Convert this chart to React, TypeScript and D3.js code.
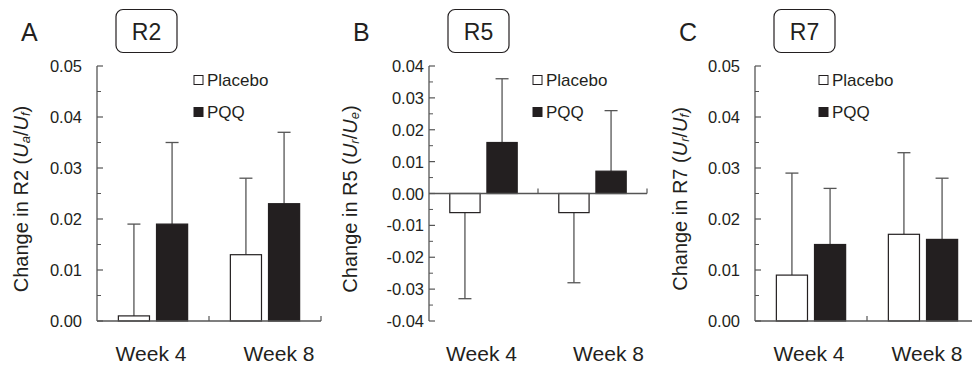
import * as d3 from "d3";

const weeks = ["Week 4", "Week 8"];
const groups = ["Placebo", "PQQ"];

// mean change and error bar end, per week
const r2Placebo = [0.001, 0.013];
const r2Pqq = [0.019, 0.023];
const r2PlaceboErr = [0.019, 0.028];
const r2PqqErr = [0.035, 0.037];

const r5Placebo = [-0.006, -0.006];
const r5Pqq = [0.016, 0.007];
const r5PlaceboErr = [-0.033, -0.028];
const r5PqqErr = [0.036, 0.026];

const r7Placebo = [0.009, 0.017];
const r7Pqq = [0.015, 0.016];
const r7PlaceboErr = [0.029, 0.033];
const r7PqqErr = [0.026, 0.028];

const ticks05 = [0, 0.01, 0.02, 0.03, 0.04, 0.05];
const ticks04 = [-0.04, -0.03, -0.02, -0.01, 0, 0.01, 0.02, 0.03, 0.04];

const FONT = "'Liberation Sans', Arial, sans-serif";
const INK = "#231f20";
const AXIS = "#555";

interface PanelProps {
  letter: string;
  title: string;
  x0: number;
  x1: number;
  domain: [number, number];
  ticks: number[];
  placebo: number[];
  pqq: number[];
  placeboErr: number[];
  pqqErr: number[];
  labelX: number;
  sub1: string;
  sub2: string;
  tickGap: number;
  legendX: number;
  week8Shift: number;
}

function Panel(p: PanelProps) {
  const top = 66;
  const bottom = 321;
  const y = d3.scaleLinear().domain(p.domain).range([bottom, top]);
  const x = d3.scaleBand<string>().domain(weeks).range([p.x0, p.x1]);
  const inner = d3
    .scaleBand<string>()
    .domain(groups)
    .range([0, x.bandwidth()])
    .paddingInner(0.184)
    .paddingOuter(0.56);
  const minor = d3.range(p.domain[0] + 0.005, p.domain[1], 0.01);
  const y0 = y(0);
  const vals: Record<string, number[]> = { Placebo: p.placebo, PQQ: p.pqq };
  const errs: Record<string, number[]> = { Placebo: p.placeboErr, PQQ: p.pqqErr };

  return (
    <g>
      <text x={p.x0 - 76} y={41} fontSize={25} fill={INK} fontFamily={FONT}>
        {p.letter}
      </text>
      <rect
        x={p.x0 + 19}
        y={9.5}
        width={61}
        height={43}
        rx={7}
        fill="white"
        stroke={INK}
        strokeWidth={1.2}
      />
      <text
        x={p.x0 + 49.5}
        y={32}
        fontSize={23}
        textAnchor="middle"
        dominantBaseline="central"
        fill={INK}
        fontFamily={FONT}
      >
        {p.title}
      </text>

      {/* y axis */}
      <line x1={p.x0} x2={p.x0} y1={top} y2={bottom} stroke={AXIS} strokeWidth={1.3} />
      {p.ticks.map((t) => (
        <g key={t}>
          <line x1={p.x0} x2={p.x0 + 6} y1={y(t)} y2={y(t)} stroke={AXIS} strokeWidth={1.2} />
          <text
            x={p.x0 - p.tickGap}
            y={y(t)}
            textAnchor="end"
            dominantBaseline="central"
            fontSize={16.5}
            fill={INK}
            fontFamily={FONT}
          >
            {t.toFixed(2)}
          </text>
        </g>
      ))}
      {minor.map((t) => (
        <line key={t} x1={p.x0} x2={p.x0 + 4} y1={y(t)} y2={y(t)} stroke={AXIS} strokeWidth={1} />
      ))}

      {/* bars */}
      {weeks.map((w, i) =>
        groups.map((g) => {
          const bx = (x(w) ?? 0) + (inner(g) ?? 0);
          const v = vals[g][i];
          const e = errs[g][i];
          const cx = bx + inner.bandwidth() / 2;
          return (
            <g key={w + g}>
              <line x1={cx} x2={cx} y1={y(v)} y2={y(e)} stroke={AXIS} strokeWidth={1.3} />
              <line x1={cx - 6.5} x2={cx + 6.5} y1={y(e)} y2={y(e)} stroke={AXIS} strokeWidth={1.3} />
              <rect
                x={bx}
                y={Math.min(y(v), y0)}
                width={inner.bandwidth()}
                height={Math.abs(y(v) - y0)}
                fill={g === "PQQ" ? INK : "white"}
                stroke={INK}
                strokeWidth={1.2}
              />
            </g>
          );
        })
      )}

      {/* x axis */}
      <line x1={p.x0} x2={p.x1} y1={y0} y2={y0} stroke={AXIS} strokeWidth={1.3} />
      {weeks.map((w) => {
        const xe = (x(w) ?? 0) + x.bandwidth();
        return <line key={w} x1={xe} x2={xe} y1={y0} y2={y0 - 5} stroke={AXIS} strokeWidth={1.2} />;
      })}
      {weeks.map((w, i) => (
        <text
          key={w}
          x={(x(w) ?? 0) + x.bandwidth() / 2 + (i === 1 ? p.week8Shift : -2)}
          y={361}
          textAnchor="middle"
          fontSize={21}
          fill={INK}
          fontFamily={FONT}
        >
          {w}
        </text>
      ))}

      {/* y label */}
      <text
        transform={`translate(${p.labelX},199) rotate(-90)`}
        textAnchor="middle"
        dominantBaseline="central"
        fontSize={20}
        fill={INK}
        fontFamily={FONT}
      >
        {`Change in ${p.title} (`}
        <tspan fontStyle="italic">U</tspan>
        <tspan fontStyle="italic" fontSize={13} dy={4}>
          {p.sub1}
        </tspan>
        <tspan dy={-4}>/</tspan>
        <tspan fontStyle="italic">U</tspan>
        <tspan fontStyle="italic" fontSize={13} dy={4}>
          {p.sub2}
        </tspan>
        <tspan dy={-4}>)</tspan>
      </text>

      {/* legend */}
      {groups.map((g, i) => (
        <g key={g} transform={`translate(${p.legendX},${80 + i * 32})`}>
          <rect
            x={0}
            y={-4.5}
            width={9}
            height={9}
            fill={g === "PQQ" ? INK : "white"}
            stroke={INK}
            strokeWidth={1}
          />
          <text x={13} y={0} dominantBaseline="central" fontSize={17} fill={INK} fontFamily={FONT}>
            {g}
          </text>
        </g>
      ))}
    </g>
  );
}

export default function App() {
  return (
    <svg
      width={972}
      height={367}
      style={{ position: "absolute", left: 0, top: 0, background: "white" }}
    >
      <Panel
        letter="A"
        title="R2"
        x0={97}
        x1={321}
        domain={[0, 0.05]}
        ticks={ticks05}
        placebo={r2Placebo}
        pqq={r2Pqq}
        placeboErr={r2PlaceboErr}
        pqqErr={r2PqqErr}
        labelX={21}
        sub1="a"
        sub2="f"
        tickGap={15}
        legendX={194}
        week8Shift={14}
      />
      <Panel
        letter="B"
        title="R5"
        x0={429}
        x1={647}
        domain={[-0.04, 0.04]}
        ticks={ticks04}
        placebo={r5Placebo}
        pqq={r5Pqq}
        placeboErr={r5PlaceboErr}
        pqqErr={r5PqqErr}
        labelX={350}
        sub1="r"
        sub2="e"
        tickGap={5}
        legendX={533}
        week8Shift={16}
      />
      <Panel
        letter="C"
        title="R7"
        x0={755}
        x1={979}
        domain={[0, 0.05]}
        ticks={ticks05}
        placebo={r7Placebo}
        pqq={r7Pqq}
        placeboErr={r7PlaceboErr}
        pqqErr={r7PqqErr}
        labelX={680}
        sub1="r"
        sub2="f"
        tickGap={15}
        legendX={819}
        week8Shift={4}
      />
    </svg>
  );
}
